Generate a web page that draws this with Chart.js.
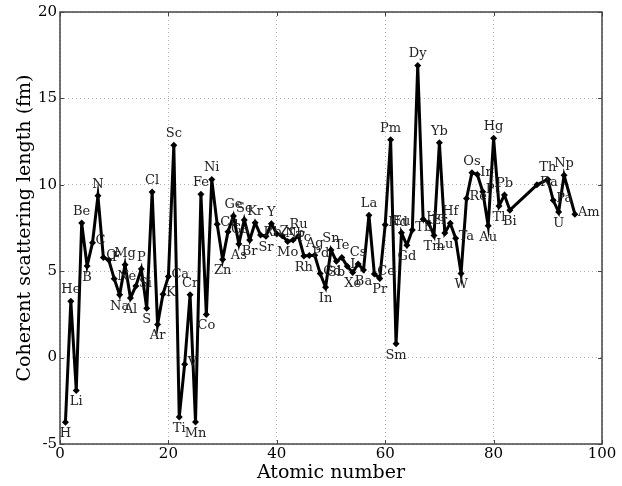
<!DOCTYPE html>
<html>
<head>
<meta charset="utf-8">
<script src="https://cdn.jsdelivr.net/npm/chart.js@4.4.0/dist/chart.umd.min.js"></script>
<style>
html, body { margin: 0; padding: 0; background: #fff; }
#wrap { width: 622px; height: 486px; }
</style>
</head>
<body>
<div id="wrap"><canvas id="grafico" width="622" height="486"></canvas></div>
<script>
// numero atomico, simbolo e comprimento de espalhamento coerente (fm)
const numeros = [
    1, 2, 3, 4, 5, 6, 7, 8, 9, 10, 11, 12, 13, 14, 15, 16, 17, 18, 19, 20,
    21, 22, 23, 24, 25, 26, 27, 28, 29, 30, 31, 32, 33, 34, 35, 36, 37, 38, 39, 40,
    41, 42, 43, 44, 45, 46, 47, 48, 49, 50, 51, 52, 53, 54, 55, 56, 57, 58, 59, 60,
    61, 62, 63, 64, 65, 66, 67, 68, 69, 70, 71, 72, 73, 74, 75, 76, 77, 78, 79, 80,
    81, 82, 83, 88, 90, 91, 92, 93, 95
];
const simbolos = [
    'H', 'He', 'Li', 'Be', 'B', 'C', 'N', 'O', 'F', 'Ne', 'Na', 'Mg', 'Al', 'Si', 'P', 'S', 'Cl', 'Ar', 'K', 'Ca',
    'Sc', 'Ti', 'V', 'Cr', 'Mn', 'Fe', 'Co', 'Ni', 'Cu', 'Zn', 'Ga', 'Ge', 'As', 'Se', 'Br', 'Kr', 'Rb', 'Sr', 'Y', 'Zr',
    'Nb', 'Mo', 'Tc', 'Ru', 'Rh', 'Pd', 'Ag', 'Cd', 'In', 'Sn', 'Sb', 'Te', 'I', 'Xe', 'Cs', 'Ba', 'La', 'Ce', 'Pr', 'Nd',
    'Pm', 'Sm', 'Eu', 'Gd', 'Tb', 'Dy', 'Ho', 'Er', 'Tm', 'Yb', 'Lu', 'Hf', 'Ta', 'W', 'Re', 'Os', 'Ir', 'Pt', 'Au', 'Hg',
    'Tl', 'Pb', 'Bi', 'Ra', 'Th', 'Pa', 'U', 'Np', 'Am'
];
const comprimentos = [
    -3.74, 3.26, -1.90, 7.79, 5.30, 6.65, 9.36, 5.80, 5.65, 4.57, 3.63, 5.38, 3.45, 4.15, 5.13, 2.85, 9.58, 1.91, 3.67, 4.70,
    12.29, -3.44, -0.38, 3.64, -3.73, 9.45, 2.49, 10.3, 7.72, 5.68, 7.29, 8.19, 6.58, 7.97, 6.80, 7.81, 7.09, 7.02, 7.75, 7.16,
    7.05, 6.72, 6.8, 7.03, 5.88, 5.91, 5.92, 4.87, 4.07, 6.23, 5.57, 5.80, 5.28, 4.92, 5.42, 5.07, 8.24, 4.84, 4.58, 7.69,
    12.6, 0.80, 7.22, 6.5, 7.38, 16.9, 8.01, 7.79, 7.07, 12.43, 7.21, 7.77, 6.91, 4.86, 9.2, 10.7, 10.6, 9.6, 7.63, 12.69,
    8.78, 9.41, 8.53, 10.0, 10.31, 9.1, 8.42, 10.55, 8.3
];
const ticksX = [0, 20, 40, 60, 80, 100];
const ticksY = [-5, 0, 5, 10, 15, 20];

// rotulos dos elementos: pico acima, vale abaixo, resto a direita
const rotulosPlugin = {
    id: 'rotulos',
    afterDatasetsDraw(chart) {
        let ctx = chart.ctx;
        let sx = chart.scales.x, sy = chart.scales.y;
        ctx.save();
        ctx.font = '13px "DejaVu Serif", serif';
        ctx.fillStyle = '#222';
        comprimentos.forEach((v, i) => {
            let px = sx.getPixelForValue(numeros[i]);
            let py = sy.getPixelForValue(v);
            let ant = i > 0 ? comprimentos[i - 1] : Infinity;
            let prox = i < comprimentos.length - 1 ? comprimentos[i + 1] : -Infinity;
            if (v >= ant && v >= prox) {
                ctx.textAlign = 'center'; ctx.textBaseline = 'bottom';
                ctx.fillText(simbolos[i], px, py - 5);
            } else if (v <= ant && v <= prox) {
                ctx.textAlign = 'center'; ctx.textBaseline = 'top';
                ctx.fillText(simbolos[i], px, py + 5);
            } else {
                ctx.textAlign = 'left'; ctx.textBaseline = 'middle';
                ctx.fillText(simbolos[i], px + 3, py - 2);
            }
        });
        ctx.restore();
    }
};

// moldura e marcas de escala para dentro
const molduraPlugin = {
    id: 'moldura',
    afterDraw(chart) {
        let ctx = chart.ctx;
        let a = chart.chartArea;
        let sx = chart.scales.x, sy = chart.scales.y;
        ctx.save();
        ctx.strokeStyle = '#444';
        ctx.lineWidth = 1.5;
        ctx.strokeRect(a.left, a.top, a.right - a.left, a.bottom - a.top);
        ctx.lineWidth = 1;
        ctx.beginPath();
        ticksX.forEach(t => {
            let p = Math.round(sx.getPixelForValue(t)) + 0.5;
            ctx.moveTo(p, a.bottom); ctx.lineTo(p, a.bottom - 4);
            ctx.moveTo(p, a.top); ctx.lineTo(p, a.top + 4);
        });
        ticksY.forEach(t => {
            let p = Math.round(sy.getPixelForValue(t)) + 0.5;
            ctx.moveTo(a.left, p); ctx.lineTo(a.left + 4, p);
            ctx.moveTo(a.right, p); ctx.lineTo(a.right - 4, p);
        });
        ctx.stroke();
        ctx.restore();
    }
};

const fonteEixo = { family: '"DejaVu Serif", serif', size: 15 };
const fonteTitulo = { family: '"DejaVu Serif", serif', size: 19 };

new Chart(document.getElementById('grafico'), {
    type: 'line',
    data: {
        datasets: [{
            data: numeros.map((n, i) => ({ x: n, y: comprimentos[i] })),
            borderColor: '#000',
            backgroundColor: '#000',
            borderWidth: 3,
            pointStyle: 'rectRot',
            pointRadius: 3.5,
            pointBorderWidth: 0,
            tension: 0,
            fill: false
        }]
    },
    options: {
        responsive: false,
        animation: false,
        layout: { padding: { top: 12, right: 20, left: 0, bottom: 0 } },
        plugins: { legend: { display: false }, tooltip: { enabled: false } },
        scales: {
            x: {
                type: 'linear',
                min: 0, max: 100,
                afterBuildTicks: s => { s.ticks = ticksX.map(v => ({ value: v })); },
                afterFit: s => { s.height = 42; },
                ticks: { color: '#000', font: fonteEixo, padding: 1, maxRotation: 0 },
                grid: { color: '#b0b0b0', lineWidth: 1, drawTicks: false },
                border: { display: false, dash: [1, 3] },
                title: { display: true, text: 'Atomic number', color: '#000', font: fonteTitulo, padding: { top: 0, bottom: 2 } }
            },
            y: {
                min: -5, max: 20,
                afterBuildTicks: s => { s.ticks = ticksY.map(v => ({ value: v })); },
                afterFit: s => { s.width = 60; },
                ticks: { color: '#000', font: fonteEixo, padding: 3 },
                grid: { color: '#b0b0b0', lineWidth: 1, drawTicks: false },
                border: { display: false, dash: [1, 3] },
                title: { display: true, text: 'Coherent scattering length (fm)', color: '#000', font: fonteTitulo, padding: { top: 14, bottom: 0 } }
            }
        }
    },
    plugins: [rotulosPlugin, molduraPlugin]
});
</script>
</body>
</html>
